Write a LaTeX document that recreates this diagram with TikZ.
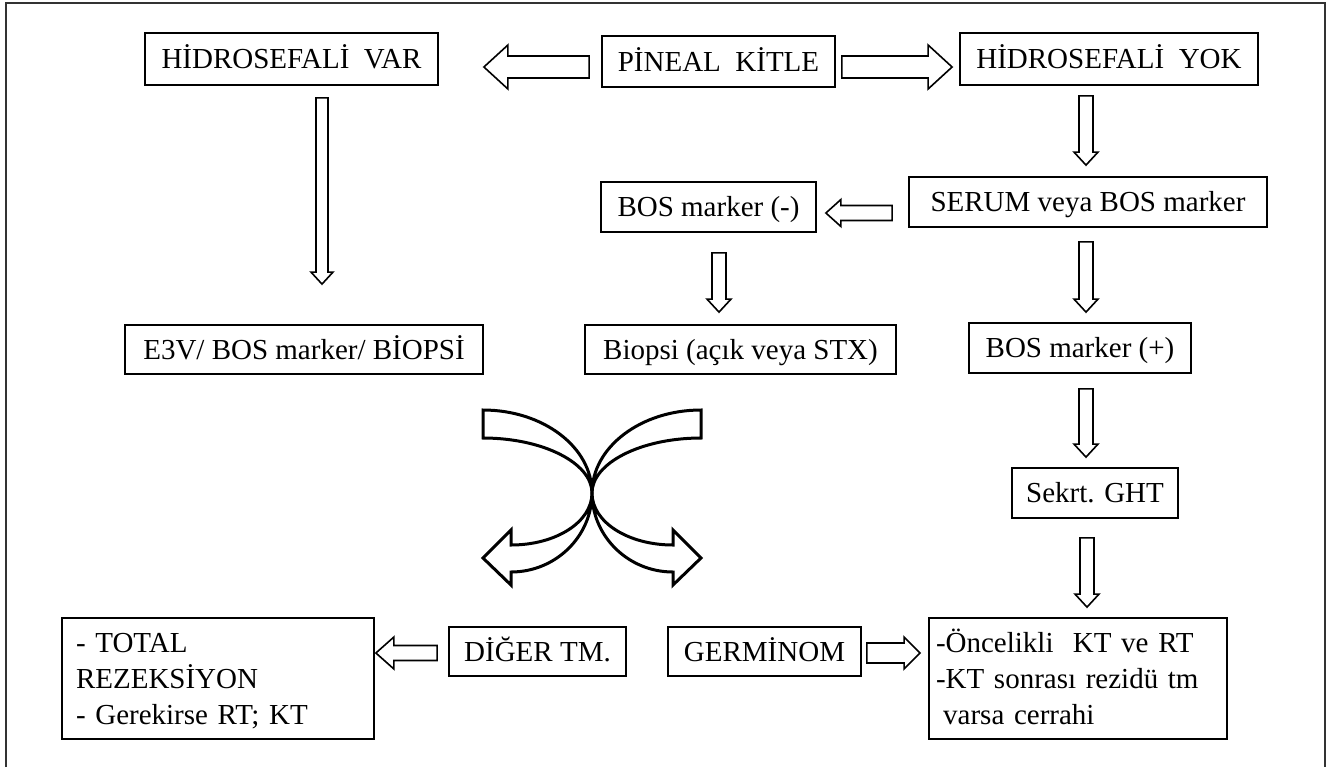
\documentclass[tikz,border=0pt]{standalone}
\usepackage{fontspec}
\setmainfont{Liberation Serif}
\usetikzlibrary{calc}

\tikzset{
  boite/.style={draw, line width=0.9pt, inner sep=0pt, text height=12pt, text depth=2.4pt,
    font=\fontsize{14.5}{18}\selectfont},
  boiteTexte/.style={boite, align=left, text width=142pt, text height=13.5pt, text depth=40pt},
  creuse/.style={draw, line width=0.8pt},
  croix/.style={draw, line width=1.5pt},
  cadre/.style={line width=0.9pt, black!80},
}

% fleche creuse : #1 demi-corps, #2 demi-tete, #3 longueur tete, #4 depart, #5 arrivee
\newcommand{\flecheCreuse}[5]{%
  \coordinate (fcS) at (#4);
  \coordinate (fcE) at (#5);
  \coordinate (fcH) at ($(fcE)!#3!(fcS)$);
  \draw[creuse] ($(fcS)!#1!90:(fcE)$) -- ($(fcH)!#1!90:(fcE)$) -- ($(fcH)!#2!90:(fcE)$)
    -- (fcE) -- ($(fcH)!#2!-90:(fcE)$) -- ($(fcH)!#1!-90:(fcE)$) -- ($(fcS)!#1!-90:(fcE)$) -- cycle;
}

\begin{document}
\begin{tikzpicture}[x=0.5pt, y=-0.5pt]
        \useasboundingbox (0,0) rectangle (1330,767);

        % cadre
        \draw[cadre] (6,767) -- (6,3) -- (1325,3) -- (1325,767);

        % boites du haut
        \draw (291.5,59) node[boite, minimum width=146.5pt, minimum height=26pt] (hydroYes) {HİDROSEFALİ~~VAR};
        \draw (718.5,61.5) node[boite, minimum width=116.5pt, minimum height=25.5pt] (pineal) {PİNEAL~~KİTLE};
        \draw (1109,59) node[boite, minimum width=149pt, minimum height=26pt] (hydroNo) {HİDROSEFALİ~~YOK};

        % boites du milieu
        \draw (1088,202) node[boite, minimum width=179pt, minimum height=25pt] (serum) {SERUM veya BOS marker};
        \draw (708.5,207) node[boite, minimum width=107.5pt, minimum height=25pt] (bosNeg) {BOS marker (-)};
        \draw (304,349.5) node[boite, minimum width=179pt, minimum height=24.5pt] (e3v) {E3V/ BOS marker/ BİOPSİ};
        \draw (740.5,349.5) node[boite, minimum width=155.5pt, minimum height=24.5pt] (biopsy) {Biopsi (açık veya STX)};
        \draw (1080,348) node[boite, minimum width=111pt, minimum height=25pt] (bosPos) {BOS marker (+)};
        \draw (1095,493) node[boite, minimum width=83pt, minimum height=25pt] (sekrt) {Sekrt. GHT};

        % boites du bas
        \draw (218,678.5) node[boiteTexte, inner xsep=7pt, minimum height=60.5pt] (total)
            {- TOTAL\\REZEKSİYON\\- Gerekirse RT; KT};
        \draw (537.5,651.5) node[boite, minimum width=88.5pt, minimum height=24.5pt] (other) {DİĞER TM.};
        \draw (764.5,651.5) node[boite, minimum width=96.5pt, minimum height=24.5pt] (germ) {GERMİNOM};
        \draw (1078,678.5) node[boiteTexte, inner xsep=3.5pt, minimum height=60.5pt] (germTx)
            {-Öncelikli~~KT ve RT\\-KT sonrası rezidü tm\\\hspace*{3.6pt}varsa cerrahi};

        % fleches creuses
        \flecheCreuse{5.5pt}{11pt}{12pt}{$(pineal.west)+(-12,5.5)$}{$(hydroYes.east)+(45,8)$}
        \flecheCreuse{5.5pt}{11pt}{12pt}{$(pineal.east)+(6,5.5)$}{$(hydroNo.west)+(-7,8)$}
        \flecheCreuse{3.5pt}{6pt}{6.5pt}{$(hydroNo.south)+(-23,10)$}{$(serum.north)+(-2,-11)$}
        \flecheCreuse{3.75pt}{6.75pt}{7.5pt}{$(serum.west)+(-16,11)$}{$(bosNeg.east)+(9,6)$}
        \flecheCreuse{3pt}{5.5pt}{6pt}{$(hydroYes.south)+(30.5,12)$}{$(e3v.north)+(18,-40)$}
        \flecheCreuse{3.5pt}{6pt}{6.5pt}{$(bosNeg.south)+(10.5,20)$}{$(biopsy.north)+(-21.5,-12)$}
        \flecheCreuse{3.5pt}{6pt}{6.5pt}{$(serum.south)+(-2,14)$}{$(bosPos.north)+(6,-10)$}
        \flecheCreuse{3.5pt}{6pt}{6.5pt}{$(bosPos.south)+(6,15)$}{$(sekrt.north)+(-9,-10)$}
        \flecheCreuse{3.5pt}{6pt}{6.5pt}{$(sekrt.south)+(-8,19)$}{$(germTx.north)+(9,-10)$}
        \flecheCreuse{3.75pt}{8pt}{9pt}{$(other.west)+(-11,1.5)$}{$(total.east)+(1,-25.5)$}
        \flecheCreuse{5pt}{8pt}{8pt}{$(germ.east)+(5,1.5)$}{$(germTx.west)+(-8,-25.5)$}

        % fleches courbes croisees
        \draw[croix] (483,410) .. controls (543,410) and (592,447) .. (592,493)
            .. controls (592,522) and (628,545) .. (673,545)
            -- (673,530) -- (701,558) -- (673,585) -- (673,572)
            .. controls (628,572) and (592,536) .. (592,493)
            .. controls (592,463) and (543,438) .. (483,438) -- cycle;
        \draw[croix] (701,410) .. controls (641,410) and (592,447) .. (592,493)
            .. controls (592,522) and (556,545) .. (511,545)
            -- (511,530) -- (483,558) -- (511,585) -- (511,572)
            .. controls (556,572) and (592,536) .. (592,493)
            .. controls (592,463) and (641,438) .. (701,438) -- cycle;
\end{tikzpicture}
\end{document}
